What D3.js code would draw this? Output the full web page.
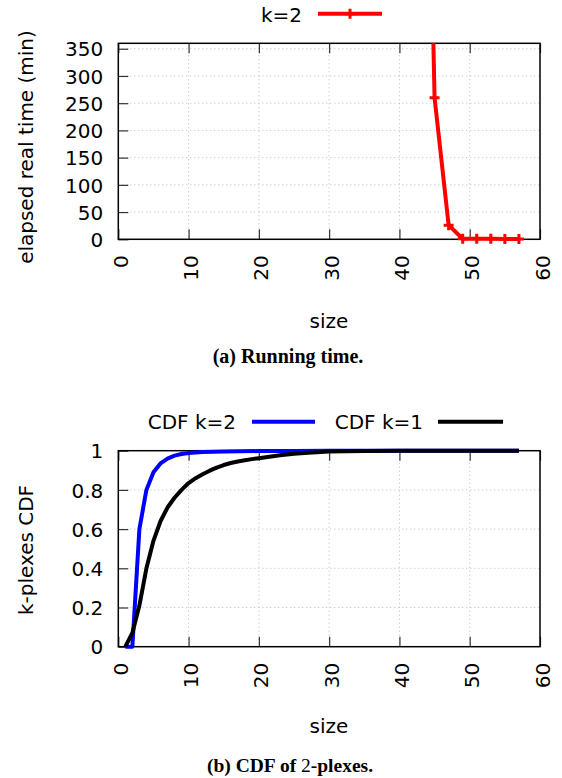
<!DOCTYPE html>
<html>
<head>
<meta charset="utf-8">
<script src="https://cdn.jsdelivr.net/npm/d3@7"></script>
<style>
  html, body { margin: 0; padding: 0; background: #fff; }
  svg { display: block; }
</style>
</head>
<body>
<svg id="chart" width="562" height="778" font-family="DejaVu Sans"></svg>
<script>
// ---------- data ----------
const xTicks = [0, 10, 20, 30, 40, 50, 60];
const runTimeTicks = [0, 50, 100, 150, 200, 250, 300, 350];
const cdfTicks = [0, 0.2, 0.4, 0.6, 0.8, 1];

// (a) running time, k=2  (size -> minutes)
const runSizes = [44, 45, 47, 49, 51, 53, 55, 57];
const runMinutes = [850, 260, 26, 1, 1.2, 1, 0.6, 0.5];

// (b) CDF of k-plexes
const cdfK2Sizes = [1, 2, 3, 4, 5, 6, 7, 8, 9, 10, 12, 15, 20, 25, 30, 40, 50, 57];
const cdfK2Values = [0, 0, 0.6, 0.8, 0.89, 0.935, 0.96, 0.975, 0.983, 0.988, 0.993, 0.996, 0.998, 0.999, 1, 1, 1, 1];
const cdfK1Sizes = [1, 2, 3, 4, 5, 6, 7, 8, 9, 10, 11, 12, 13, 14, 15, 16, 17, 18, 19, 20, 21, 22, 23, 24, 25, 27, 30, 35, 40, 50, 57];
const cdfK1Values = [0, 0.07, 0.21, 0.40, 0.54, 0.64, 0.71, 0.76, 0.80, 0.835, 0.86, 0.88, 0.898, 0.914, 0.927, 0.937, 0.945, 0.951, 0.957, 0.962, 0.967, 0.972, 0.977, 0.981, 0.985, 0.99, 0.996, 0.999, 1, 1, 1];

// ---------- drawing ----------
const svg = d3.select("#chart");
const L = 118.3, R = 540;

function panel(opts) {
  const g = svg.append("g");
  const x = d3.scaleLinear().domain([0, 60]).range([L, R]);
  const y = d3.scaleLinear().domain(opts.yDomain).range([opts.bottom, opts.top]);

  // grid
  const grid = g.append("g").attr("stroke", "#b8b8b8").attr("stroke-width", 1)
    .attr("stroke-dasharray", "1,3");
  xTicks.filter(t => t > 0 && t < 60).forEach(t => {
    grid.append("line").attr("x1", x(t)).attr("x2", x(t))
      .attr("y1", opts.top).attr("y2", opts.bottom);
  });
  opts.yTicks.filter(t => y(t) > opts.top + 1 && y(t) < opts.bottom - 1).forEach(t => {
    grid.append("line").attr("x1", L).attr("x2", R)
      .attr("y1", y(t)).attr("y2", y(t));
  });

  // axes (inward ticks)
  const ax = g.append("g").attr("transform", `translate(0,${opts.bottom})`)
    .call(d3.axisBottom(x).tickValues(xTicks).tickSize(-10).tickPadding(16));
  ax.select(".domain").remove();
  ax.attr("font-family", "DejaVu Sans").attr("font-size", 20);
  ax.selectAll("line").attr("stroke", "#333").attr("stroke-width", 1.2);
  ax.selectAll("text")
    .attr("transform", "rotate(-90)")
    .attr("text-anchor", "end")
    .attr("x", -16).attr("y", 2).attr("dy", "0.35em")
    .attr("fill", "#000");

  const axTop = g.append("g").attr("transform", `translate(0,${opts.top})`)
    .call(d3.axisTop(x).tickValues(xTicks).tickSize(-10).tickFormat(""));
  axTop.select(".domain").remove();
  axTop.selectAll("line").attr("stroke", "#333").attr("stroke-width", 1.2);

  const ay = g.append("g").attr("transform", `translate(${L},0)`)
    .call(d3.axisLeft(y).tickValues(opts.yTicks).tickSize(-10).tickPadding(15)
      .tickFormat(opts.fmt));
  ay.select(".domain").remove();
  ay.attr("font-family", "DejaVu Sans").attr("font-size", 20);
  ay.selectAll("line").attr("stroke", "#333").attr("stroke-width", 1.2);
  ay.selectAll("text").attr("fill", "#000").attr("dy", "0.36em");

  // frame
  g.append("rect").attr("x", L).attr("y", opts.top)
    .attr("width", R - L).attr("height", opts.bottom - opts.top)
    .attr("fill", "none").attr("stroke", "#000").attr("stroke-width", 1.5);

  // axis labels
  g.append("text").attr("transform", `translate(33,${opts.yLabelY}) rotate(-90)`)
    .attr("text-anchor", "middle").attr("font-size", 20).text(opts.yLabel);
  g.append("text").attr("x", 329).attr("y", opts.xLabelY)
    .attr("text-anchor", "middle").attr("font-size", 20).text("size");

  return { g, x, y };
}

// ---- (a) running time ----
const pa = panel({
  top: 43.3, bottom: 239.3, yDomain: [0, 360], yTicks: runTimeTicks,
  fmt: d3.format("d"), yLabel: "elapsed real time (min)", yLabelY: 147, xLabelY: 328
});
svg.append("defs").append("clipPath").attr("id", "clipA")
  .append("rect").attr("x", L - 10).attr("y", 43.3).attr("width", R - L + 20).attr("height", 220);
const runData = runSizes.map((s, i) => ({ s, v: runMinutes[i] }));
const lineA = d3.line().x(d => pa.x(d.s)).y(d => pa.y(d.v));
pa.g.append("path").datum(runData).attr("clip-path", "url(#clipA)")
  .attr("d", lineA).attr("fill", "none").attr("stroke", "#ff0000")
  .attr("stroke-width", 4).attr("stroke-linejoin", "round");
const plus = (sel, cx, cy, r) => {
  sel.append("path").attr("d", `M${cx - r},${cy}H${cx + r}M${cx},${cy - r}V${cy + r}`)
    .attr("stroke", "#ff0000").attr("stroke-width", 3).attr("fill", "none");
};
runData.filter(d => d.v <= 360).forEach(d => plus(pa.g, pa.x(d.s), pa.y(d.v), 5));

// legend (a)
svg.append("text").attr("x", 302).attr("y", 21.5).attr("text-anchor", "end")
  .attr("font-size", 20).text("k=2");
svg.append("line").attr("x1", 318).attr("x2", 382).attr("y1", 13.7).attr("y2", 13.7)
  .attr("stroke", "#ff0000").attr("stroke-width", 4);
plus(svg, 350, 13.7, 5);

// caption (a)
svg.append("text").attr("x", 288).attr("y", 363).attr("text-anchor", "middle")
  .style("font-family", "'Liberation Serif', serif").attr("font-weight", "bold")
  .attr("font-size", 20).text("(a) Running time.");

// ---- (b) CDF ----
const pb = panel({
  top: 450.7, bottom: 646.7, yDomain: [0, 1], yTicks: cdfTicks,
  fmt: d => d3.format("~g")(d), yLabel: "k-plexes CDF", yLabelY: 550, xLabelY: 733
});
const lineB = d3.line().x(d => pb.x(d[0])).y(d => pb.y(d[1]));
pb.g.append("path").datum(cdfK2Sizes.map((s, i) => [s, cdfK2Values[i]]))
  .attr("d", lineB).attr("fill", "none").attr("stroke", "#0000ff")
  .attr("stroke-width", 4).attr("stroke-linejoin", "round");
pb.g.append("path").datum(cdfK1Sizes.map((s, i) => [s, cdfK1Values[i]]))
  .attr("d", lineB).attr("fill", "none").attr("stroke", "#000000")
  .attr("stroke-width", 4).attr("stroke-linejoin", "round");

// legend (b)
svg.append("text").attr("x", 236).attr("y", 429).attr("text-anchor", "end")
  .attr("font-size", 20).text("CDF k=2");
svg.append("line").attr("x1", 252).attr("x2", 315).attr("y1", 421.7).attr("y2", 421.7)
  .attr("stroke", "#0000ff").attr("stroke-width", 4);
svg.append("text").attr("x", 423).attr("y", 429).attr("text-anchor", "end")
  .attr("font-size", 20).text("CDF k=1");
svg.append("line").attr("x1", 438).attr("x2", 503).attr("y1", 421.7).attr("y2", 421.7)
  .attr("stroke", "#000000").attr("stroke-width", 4);

// caption (b)
const capB = svg.append("text").attr("x", 290).attr("y", 772).attr("text-anchor", "middle")
  .style("font-family", "'Liberation Serif', serif").attr("font-weight", "bold").attr("font-size", 19.5);
capB.append("tspan").text("(b) CDF of ");
capB.append("tspan").attr("font-weight", "normal").text("2");
capB.append("tspan").text("-plexes.");
</script>
</body>
</html>
